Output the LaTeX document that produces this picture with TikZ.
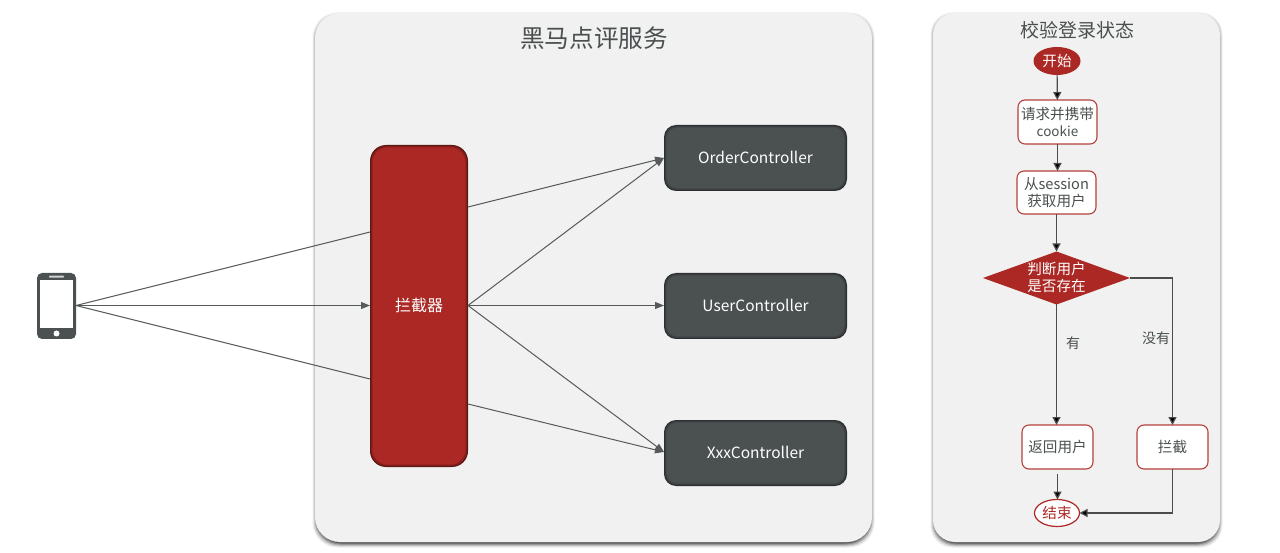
\documentclass[tikz,border=0pt]{standalone}
\usepackage{fontspec}
\setmainfont{Noto Sans}
\newfontfamily\cjk{Noto Sans CJK SC}
\usetikzlibrary{arrows.meta,shapes.geometric}
\definecolor{panelbg}{HTML}{F1F1F1}
\definecolor{redbox}{HTML}{AB2824}
\definecolor{reddeep}{HTML}{5E1714}
\definecolor{darkbox}{HTML}{4B5051}
\definecolor{darkdeep}{HTML}{2C3032}
\definecolor{inktext}{HTML}{4A4F4F}
\definecolor{wire}{HTML}{565A5A}
\definecolor{redline}{HTML}{B5403C}
\tikzset{
  x=1pt,y=-1pt,
  base/.style={inner sep=0pt,outer sep=0pt,align=center,font=\cjk},
  panel/.style={base,fill=panelbg,rounded corners=#1},
  ctrl/.style={base,rectangle,minimum width=183pt,minimum height=66pt,text=white},
  flowbox/.style={base,rectangle,fill=white,draw=redline,line width=1.1pt,rounded corners=7pt,text=inktext,font=\cjk\fontsize{14.6}{17}\selectfont},
  wireto/.style={draw=wire,line width=1pt,-{Triangle[length=9pt,width=7pt,fill=wire]}},
  wireplain/.style={draw=wire,line width=1pt},
  flowto/.style={draw=black!70,line width=1.2pt,-{Triangle[length=8pt,width=8pt,fill=black]}},
}
\begin{document}
\begin{tikzpicture}
\useasboundingbox[fill=white] (0,0) rectangle (1280,553);
% panel drop shadows
\foreach \o/\s in {.07/-1.5,.10/-.5,.16/.5,.22/1.5,.30/2.5}{
  \fill[black,opacity=\o,rounded corners=25pt] (314+\s,14+\s) rectangle (873-\s,546-\s);
  \fill[black,opacity=\o,rounded corners=22pt] (932+\s,14+\s) rectangle (1221-\s,546-\s);
}
\node[panel=25pt,minimum width=557pt,minimum height=529pt] (servicepanel) at (593.5,277.5) {};
\node[panel=22pt,minimum width=287pt,minimum height=529pt] (checkpanel) at (1076.5,277.5) {};
\node[base,text=inktext,font=\cjk\fontsize{24.6}{26}\selectfont] (servicetitle) at (594,38) {黑马点评服务};
\node[base,text=inktext,font=\cjk\fontsize{19}{21}\selectfont] (checktitle) at (1077,30) {校验登录状态};
% phone
\node[base,rectangle,fill=darkbox,rounded corners=5pt,minimum width=39pt,minimum height=66pt] (phone) at (56.5,306) {};
\fill[white] (40,280.5) rectangle (73,328);
\fill[white!75!darkbox,rounded corners=.7pt] (49,275.6) rectangle (64,277.6);
\fill[white] (56.5,333.5) circle (3pt);
% interceptor
\node[base,rectangle,fill=reddeep,rounded corners=16pt,minimum width=98pt,minimum height=322pt] (guard) at (419,306) {};
\fill[reddeep!60!redbox,rounded corners=15.5pt] (371,146) rectangle (467,466);
\fill[reddeep!25!redbox,rounded corners=15pt] (372,147) rectangle (466,465);
\fill[redbox,rounded corners=14pt] (373,148) rectangle (465,464);
\node[base,text=white,font=\cjk\fontsize{16}{18}\selectfont] (guardlabel) at (419,305) {拦截器};
% controllers
\foreach \n/\y/\t in {orderctl/158/OrderController,userctl/306/UserController,xxxctl/453/XxxController}{
  \node[ctrl,fill=darkdeep,rounded corners=12pt] (\n) at (755.5,\y) {};
  \fill[darkdeep!55!darkbox,rounded corners=11.5pt] (665,\y-32) rectangle (846,\y+32);
  \fill[darkdeep!22!darkbox,rounded corners=11pt] (666,\y-31) rectangle (845,\y+31);
  \fill[darkbox,rounded corners=10pt] (667,\y-30) rectangle (844,\y+30);
  \node[base,text=white,font=\cjk\fontsize{15.5}{18}\selectfont] at (755.5,\y-.5) {\t};
}
% anchor points on the interceptor
\coordinate (gwTop) at (370,232);
\coordinate (gwBot) at (370,379);
\coordinate (geTop) at (468,207);
\coordinate (geMid) at (468,305.5);
\coordinate (geBot) at (468,404);
\coordinate (gwMid) at (370,305.5);
\coordinate (pE) at (76,305.5);
\coordinate (oW) at (664,158);
\coordinate (uW) at (664,305.5);
\coordinate (xW) at (664,452);
\draw[wireplain] (pE) -- (gwTop);
\draw[wireto] (pE) -- (gwMid);
\draw[wireplain] (pE) -- (gwBot);
\draw[wireto] (geTop) -- (oW);
\draw[wireto] (geMid) -- (oW);
\draw[wireto] (geMid) -- (uW);
\draw[wireto] (geMid) -- (xW);
\draw[wireto] (geBot) -- (xW);
% flowchart
\node[base,ellipse,fill=redbox,text=white,minimum width=47pt,minimum height=28pt,font=\cjk\fontsize{14.6}{16}\selectfont] (fstart) at (1057,61) {开始};
\node[flowbox,minimum width=79pt,minimum height=44pt] (freq) at (1057.5,122) {请求并携带\\{\fontsize{13.5}{15}\selectfont cookie}};
\node[flowbox,minimum width=79pt,minimum height=43pt] (fsess) at (1056.5,192.5) {从session\\获取用户};
\node[base,diamond,aspect=2.77,fill=redbox,text=white,minimum width=147pt,minimum height=53pt] (fcheck) at (1056.5,278) {};
\node[base,text=white,font=\cjk\fontsize{14.6}{17}\selectfont] (fchecktxt) at (1056.5,277.5) {判断用户\\是否存在};
\node[flowbox,minimum width=71pt,minimum height=44pt] (fret) at (1057.5,447) {返回用户};
\node[flowbox,minimum width=71pt,minimum height=44pt] (fblock) at (1172.5,447) {拦截};
\node[base,ellipse,fill=white,draw=redbox,line width=1.2pt,text=redbox,minimum width=45pt,minimum height=27pt,font=\cjk\fontsize{14.6}{16}\selectfont] (fend) at (1057,513) {结束};
\draw[flowto] (fstart) -- (freq);
\draw[flowto] (freq.south) -- (freq.south |- fsess.north);
\draw[flowto] (fsess) -- (fcheck);
\draw[flowto] (fcheck.south) -- (fcheck.south |- fret.north);
\draw[flowto] (fcheck.east) -| (fblock.north);
\draw[flowto,shorten <=5pt] (fret.south) -- (fret.south |- fend.north);
\draw[flowto] (fblock.south) |- (fend.east);
\node[base,text=inktext,font=\cjk\fontsize{14}{16}\selectfont] (lyes) at (1073,343) {有};
\node[base,text=inktext,font=\cjk\fontsize{14}{16}\selectfont] (lno) at (1156,338) {没有};
\end{tikzpicture}
\end{document}
